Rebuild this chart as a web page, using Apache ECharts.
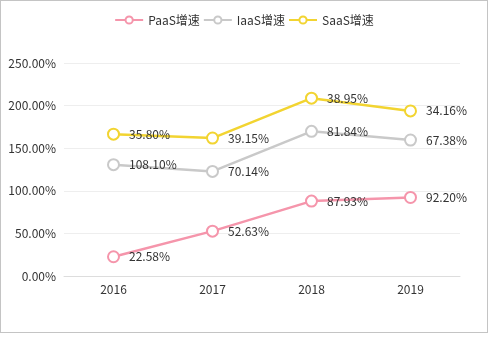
<!DOCTYPE html>
<html><head><meta charset="utf-8">
<script src="https://cdn.jsdelivr.net/npm/echarts@6/dist/echarts.min.js"></script>
<style>html,body{margin:0;padding:0;background:#fff}#c{box-sizing:border-box;width:488px;height:333px;border:1px solid #c4c4c4}</style>
</head><body><div id="c"></div>
<script>
const categories = ['2016','2017','2018','2019'];
const paas = [22.58, 52.63, 87.93, 92.20];
const iaas = [108.10, 70.14, 81.84, 67.38];
const saas = [35.80, 39.15, 38.95, 34.16];
const seriesNames = ['PaaS增速','IaaS增速','SaaS增速'];
const colors = ['#f595ab','#c9c9c9','#f2d431'];
const font = "'Microsoft YaHei','Noto Sans CJK SC',sans-serif";
const chart = echarts.init(document.getElementById('c'));
const mk = (name, data, color) => ({
  name, type:'line', stack:'total', data,
  symbol:'emptyCircle', symbolSize:11,
  lineStyle:{width:2.5,color}, itemStyle:{color, borderWidth:2.5},
  label:{show:true, position:'right', distance:9, color:'#333', fontSize:12, fontFamily:font, formatter:p=>p.value.toFixed(2)+'%'}
});
chart.setOption({
  animation:false,
  textStyle:{fontFamily:font},
  legend:{top:8, left:'center', itemWidth:28, itemHeight:9, itemGap:3, textStyle:{fontSize:12,color:'#333',fontFamily:font}, data:seriesNames},
  grid:{left:63, right:27, top:62, bottom:56},
  xAxis:{type:'category', data:categories, boundaryGap:true,
    axisLine:{lineStyle:{color:'#ddd'}}, axisTick:{show:false},
    axisLabel:{color:'#333', fontSize:12, margin:7, fontFamily:font}},
  yAxis:{type:'value', min:0, max:250, interval:50,
    axisLine:{show:false}, axisTick:{show:false},
    splitLine:{lineStyle:{color:'#eee'}},
    axisLabel:{color:'#333', fontSize:12, fontFamily:font, formatter:v=>v.toFixed(2)+'%'}},
  series:[mk(seriesNames[0],paas,colors[0]), mk(seriesNames[1],iaas,colors[1]), mk(seriesNames[2],saas,colors[2])]
});
</script></body></html>
